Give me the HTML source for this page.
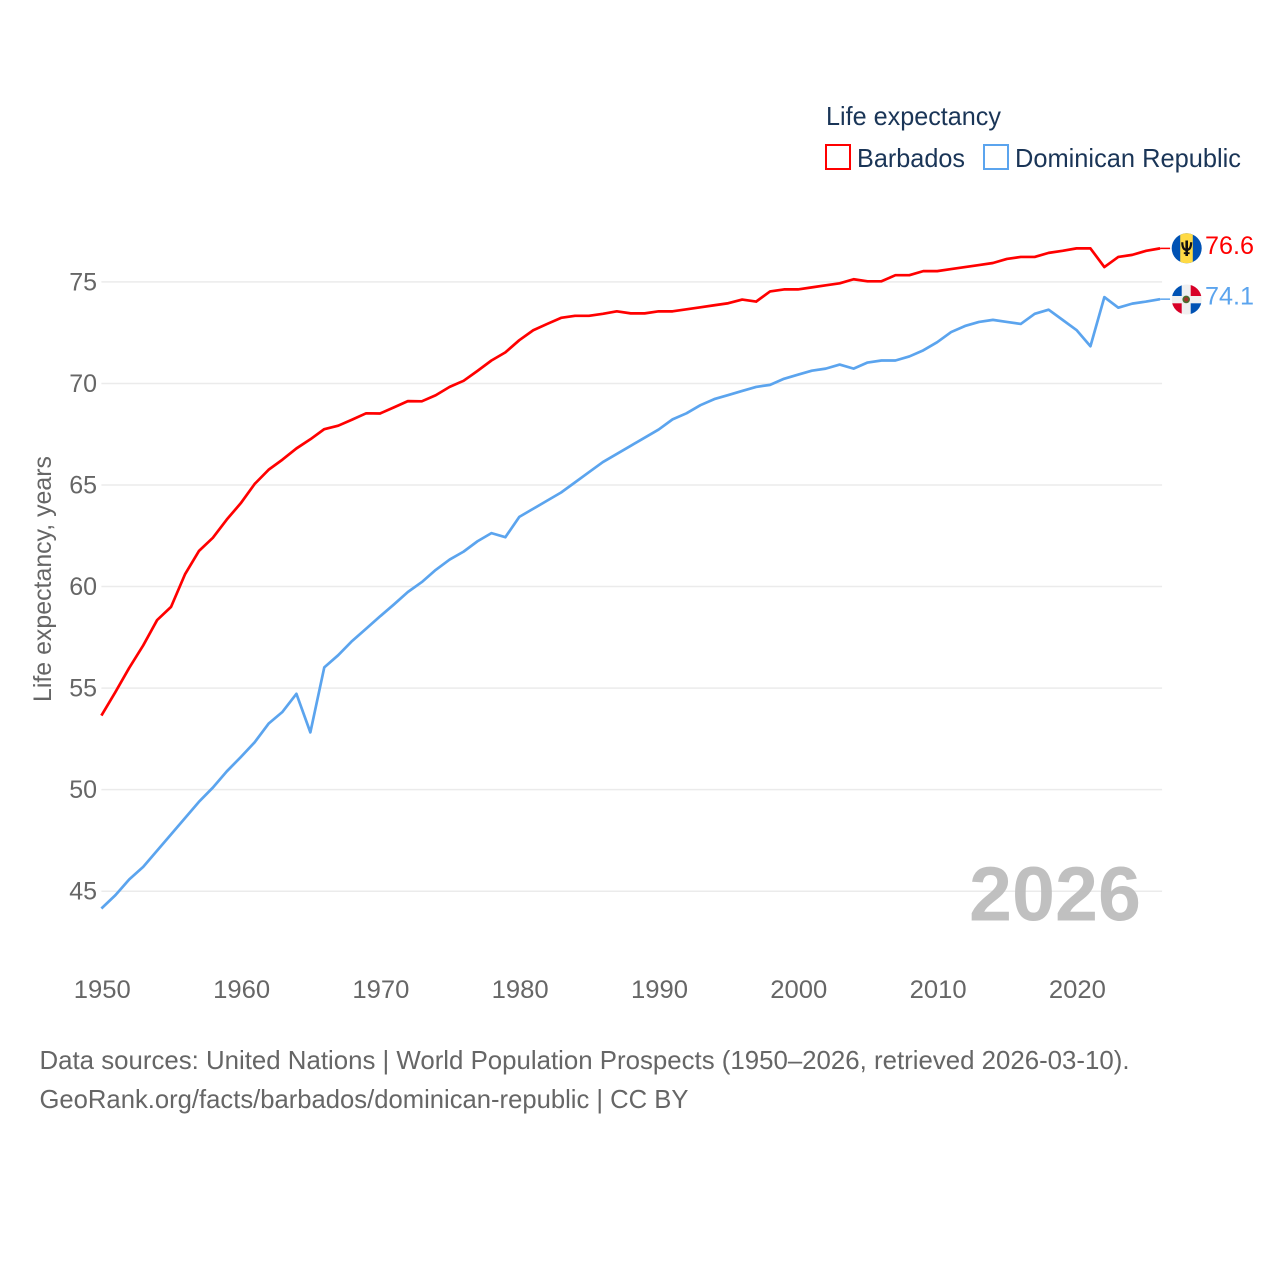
<!DOCTYPE html>
<html lang="en">
<head>
<meta charset="utf-8">
<title>Life expectancy: Barbados and Dominican Republic</title>
<style>
html,body{margin:0;padding:0;background:#fff;width:1280px;height:1280px;overflow:hidden}
svg{display:block;font-family:"Liberation Sans",sans-serif}
</style>
</head>
<body>
<svg id="chart" xmlns="http://www.w3.org/2000/svg" width="1280" height="1280" viewBox="0 0 1280 1280">
  <defs>
    <clipPath id="clip-bb"><circle cx="1186.7" cy="248.3" r="15"/></clipPath>
    <clipPath id="clip-do"><circle cx="1186.7" cy="299.5" r="15"/></clipPath>
  </defs>
  <rect width="1280" height="1280" fill="#fff"/>
  <g id="grid"></g>
  <text x="969" y="920.5" font-size="77" font-weight="700" fill="#bdbdbd" fill-opacity="0.95" textLength="172" lengthAdjust="spacingAndGlyphs">2026</text>
  <g id="yticks"></g>
  <g id="xticks"></g>
  <text transform="translate(51,579) rotate(-90)" text-anchor="middle" font-size="25" fill="#666" textLength="246" lengthAdjust="spacingAndGlyphs">Life expectancy, years</text>
  <g id="series"></g>

  <g>
    <text x="826" y="125" font-size="26" fill="#1a3557" textLength="175" lengthAdjust="spacingAndGlyphs">Life expectancy</text>
    <rect x="826" y="145" width="24" height="24" fill="none" stroke="#ff0000" stroke-width="2"/>
    <text x="857" y="167" font-size="26" fill="#1a3557" textLength="108" lengthAdjust="spacingAndGlyphs">Barbados</text>
    <rect x="984" y="145" width="24" height="24" fill="none" stroke="#5ba4ee" stroke-width="2"/>
    <text x="1015" y="167" font-size="26" fill="#1a3557" textLength="226" lengthAdjust="spacingAndGlyphs">Dominican Republic</text>
  </g>

  <g clip-path="url(#clip-bb)">
    <rect x="1171" y="233" width="32" height="31" fill="#0052b4"/>
    <rect x="1180.2" y="233" width="12.6" height="31" fill="#ffda44"/>
    <g fill="none" stroke="#111">
      <path d="M1186.7 240.5V256" stroke-width="2.6"/>
      <path d="M1183.8 253.2H1189.6" stroke-width="1.8"/>
      <path d="M1182.3 242.2c0 5.2 1.6 7.6 4.4 7.6s4.4-2.4 4.4-7.6" stroke-width="2.2"/>
    </g>
  </g>
  <g clip-path="url(#clip-do)">
    <rect x="1171" y="284" width="32" height="32" fill="#f0f0f0"/>
    <rect x="1171" y="284" width="10.7" height="12" fill="#0052b4"/>
    <rect x="1190.7" y="284" width="13" height="12" fill="#d80027"/>
    <rect x="1171" y="303.3" width="10.7" height="13" fill="#d80027"/>
    <rect x="1190.7" y="303.3" width="13" height="13" fill="#0052b4"/>
    <circle cx="1186.2" cy="299.4" r="3.8" fill="#496e2d"/>
    <circle cx="1186.2" cy="299.4" r="2.2" fill="#a2342a"/>
  </g>

  <text x="39.5" y="1069" font-size="26" fill="#666" textLength="1090" lengthAdjust="spacingAndGlyphs">Data sources: United Nations | World Population Prospects (1950–2026, retrieved 2026-03-10).</text>
  <text x="39.5" y="1108" font-size="26" fill="#666" textLength="649" lengthAdjust="spacingAndGlyphs">GeoRank.org/facts/barbados/dominican-republic | CC BY</text>
</svg>
<script>
const startYear = 1950;
const barbados = [53.65,54.8,56.0,57.1,58.35,59.0,60.6,61.75,62.4,63.3,64.1,65.05,65.75,66.25,66.8,67.25,67.75,67.92,68.22,68.53,68.52,68.82,69.13,69.12,69.42,69.83,70.13,70.62,71.13,71.53,72.13,72.62,72.93,73.23,73.33,73.33,73.43,73.55,73.45,73.45,73.55,73.55,73.65,73.75,73.85,73.95,74.13,74.03,74.53,74.63,74.63,74.73,74.83,74.93,75.13,75.03,75.03,75.33,75.33,75.53,75.53,75.63,75.73,75.83,75.93,76.13,76.23,76.23,76.43,76.53,76.65,76.65,75.73,76.23,76.33,76.53,76.65];
const dominicanRepublic = [44.15,44.8,45.58,46.2,47.0,47.8,48.6,49.4,50.1,50.9,51.6,52.33,53.25,53.83,54.72,52.82,56.02,56.62,57.32,57.92,58.53,59.12,59.73,60.22,60.82,61.33,61.72,62.23,62.63,62.43,63.43,63.83,64.23,64.63,65.13,65.63,66.13,66.53,66.93,67.33,67.73,68.23,68.53,68.93,69.23,69.43,69.63,69.83,69.93,70.23,70.43,70.63,70.73,70.93,70.73,71.03,71.13,71.13,71.33,71.63,72.03,72.53,72.83,73.03,73.13,73.03,72.93,73.43,73.63,73.13,72.63,71.83,74.25,73.73,73.93,74.03,74.15];
const yTicks = [45,50,55,60,65,70,75];
const xTicks = [1950,1960,1970,1980,1990,2000,2010,2020];
const endLabels = ["76.6","74.1"];

const NS = "http://www.w3.org/2000/svg";
function xScale(year){ return 101.4 + (year - 1950) * 13.93; }
function yScale(v){ return 891.2 - (v - 45) * 20.31; }
function make(tag, parent){
  const el = document.createElementNS(NS, tag);
  parent.appendChild(el);
  return el;
}

const gridGroup = document.getElementById("grid");
const yTickGroup = document.getElementById("yticks");
yTicks.forEach(function(t){
  const line = make("line", gridGroup);
  
  
  line.setAttribute("x1", xScale(1950));
  line.setAttribute("x2", xScale(2026) + 2);
  line.setAttribute("y1", yScale(t));
  line.setAttribute("y2", yScale(t));
  line.setAttribute("stroke", "#ebebeb");
  line.setAttribute("stroke-width", "1.5");
  const label = make("text", yTickGroup);
  
  
  label.setAttribute("x", 97);
  label.setAttribute("y", yScale(t) + 8.5);
  label.setAttribute("text-anchor", "end");
  label.setAttribute("font-size", "25");
  label.setAttribute("fill", "#666");
  label.textContent = String(t);
});

const xTickGroup = document.getElementById("xticks");
xTicks.forEach(function(t){
  const label = make("text", xTickGroup);
  
  
  label.setAttribute("x", xScale(t) + 0.9);
  label.setAttribute("y", 998);
  label.setAttribute("text-anchor", "middle");
  label.setAttribute("font-size", "25");
  label.setAttribute("fill", "#666");
  label.setAttribute("textLength", "57");
  label.setAttribute("lengthAdjust", "spacingAndGlyphs");
  label.textContent = String(t);
});

const seriesGroup = document.getElementById("series");
function linePoints(values){
  return values.map(function(v, i){
    return xScale(startYear + i).toFixed(2) + "," + yScale(v).toFixed(2);
  }).join(" ");
}

const redLine = make("polyline", seriesGroup);


redLine.setAttribute("points", linePoints(barbados));
redLine.setAttribute("fill", "none");
redLine.setAttribute("stroke", "#ff0000");
redLine.setAttribute("stroke-width", "2.7");
redLine.setAttribute("stroke-linejoin", "round");

const blueLine = make("polyline", seriesGroup);


blueLine.setAttribute("points", linePoints(dominicanRepublic));
blueLine.setAttribute("fill", "none");
blueLine.setAttribute("stroke", "#5ba4ee");
blueLine.setAttribute("stroke-width", "2.7");
blueLine.setAttribute("stroke-linejoin", "round");

const endX = xScale(startYear + barbados.length - 1);
const redY = yScale(barbados[barbados.length - 1]);
const blueY = yScale(dominicanRepublic[dominicanRepublic.length - 1]);

const redLead = make("line", seriesGroup);


redLead.setAttribute("x1", endX);
redLead.setAttribute("x2", endX + 10);
redLead.setAttribute("y1", redY);
redLead.setAttribute("y2", redY);
redLead.setAttribute("stroke", "#ff0000");
redLead.setAttribute("stroke-width", "1.5");

const blueLead = make("line", seriesGroup);


blueLead.setAttribute("x1", endX);
blueLead.setAttribute("x2", endX + 10);
blueLead.setAttribute("y1", blueY);
blueLead.setAttribute("y2", blueY);
blueLead.setAttribute("stroke", "#5ba4ee");
blueLead.setAttribute("stroke-width", "1.5");

const redValue = make("text", seriesGroup);


redValue.setAttribute("x", 1205);
redValue.setAttribute("y", redY + 5.5);
redValue.setAttribute("font-size", "25");
redValue.setAttribute("fill", "#ff0000");
redValue.setAttribute("textLength", "49");
redValue.setAttribute("lengthAdjust", "spacingAndGlyphs");
redValue.textContent = endLabels[0];

const blueValue = make("text", seriesGroup);


blueValue.setAttribute("x", 1205);
blueValue.setAttribute("y", blueY + 5.5);
blueValue.setAttribute("font-size", "25");
blueValue.setAttribute("fill", "#5ba4ee");
blueValue.setAttribute("textLength", "49");
blueValue.setAttribute("lengthAdjust", "spacingAndGlyphs");
blueValue.textContent = endLabels[1];
</script>
</body>
</html>
